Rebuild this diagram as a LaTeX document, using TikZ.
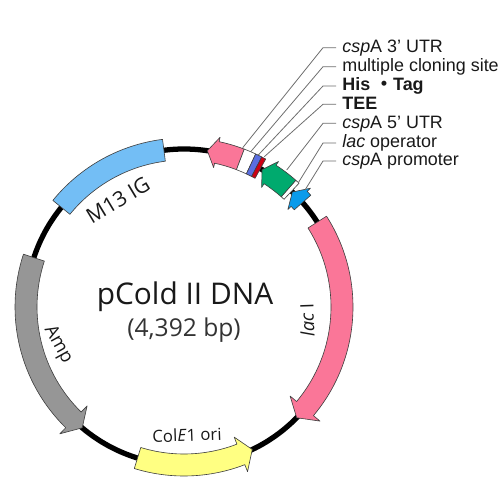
\documentclass[tikz,border=0pt]{standalone}
\usepackage{fontspec}
\setmainfont{Liberation Sans}
\newfontfamily\myr{Open Sans}
\newfontfamily\cjk{Noto Sans CJK JP}
\definecolor{pinkc}{RGB}{250,118,152}
\definecolor{grayc}{RGB}{150,150,150}
\definecolor{bluec}{RGB}{115,190,245}
\definecolor{yelc}{RGB}{255,255,130}
\definecolor{greenc}{RGB}{0,170,110}
\definecolor{cyanc}{RGB}{10,155,235}
\definecolor{midb}{RGB}{90,110,225}
\definecolor{redc}{RGB}{205,0,20}
\definecolor{leadc}{RGB}{110,110,110}
\tikzset{
 feat/.style={draw=black!75,line width=0.35pt,line join=round},
 leader/.style={draw=leadc,line width=0.45pt},
 lab/.style={anchor=base west,font=\fontsize{10.2}{12}\selectfont,inner sep=0pt,text=black!90},
 maplab/.style={font=\myr\fontsize{10.5}{13}\selectfont,inner sep=0pt,text=black!90}
}
\def\R{158}
\newcommand{\band}[3]{\path[feat,fill=#3] (#1:169) arc[start angle=#1,end angle=#2,radius=169] -- (#2:147) arc[start angle=#2,end angle=#1,radius=147] -- cycle;}
\newcommand{\garrow}[5]{\path[feat,fill=#4] (#1:169) arc[start angle=#1,end angle=#2,radius=169] -- (#2:158+#5) -- (#3:158) -- (#2:158-#5) -- (#2:147) arc[start angle=#2,end angle=#1,radius=147] -- cycle;}
\begin{document}
\begin{tikzpicture}[x=0.02cm,y=0.02cm]
\useasboundingbox (0,0) rectangle (500,500);
\fill[white] (0,0) rectangle (500,500);
\begin{scope}[shift={(184,193)}]
\draw[line width=3pt,black] (0,0) circle[radius=\R];
\garrow{161.8}{225.6}{229.9}{grayc}{19.5}
\band{97.3}{140.9}{bluec}
\garrow{252.9}{291.1}{295.6}{yelc}{18.5}
\garrow{32.5}{-40}{-44.5}{pinkc}{19.5}
\garrow{69.1}{78}{81.5}{pinkc}{15.5}
\band{69.1}{64.9}{white}
\band{64.9}{62.6}{midb}
\band{62.6}{61.1}{redc}
\band{48.6}{47.1}{white}
\garrow{48.6}{57}{60.4}{greenc}{15.5}
\garrow{41.4}{43.2}{46.7}{cyanc}{15.5}
\end{scope}
\coordinate (l1e) at (242.7,352.3);
\coordinate (l2e) at (250.7,348.3);
\coordinate (l3e) at (258.3,345);
\coordinate (l4e) at (264.3,343.3);
\coordinate (l5e) at (286.7,330);
\coordinate (l6e) at (298.3,317.3);
\coordinate (l7e) at (305,310);
\node[lab] (t1) at (342,447.3) {\textit{csp}A 3' UTR};
\node[lab] (t2) at (342,428.3) {multiple cloning site};
\node[lab] (t3) at (342,409) {\textbf{His {\cjk\bfseries ・}Tag}};
\node[lab] (t4) at (342,390.7) {\textbf{TEE}};
\node[lab] (t5) at (342,371.7) {\textit{csp}A 5' UTR};
\node[lab] (t6) at (342,352) {\textit{lac} operator};
\node[lab] (t7) at (342,334) {\textit{csp}A promoter};
\foreach \i in {1,...,7}{
 \draw[leader] (t\i.base west) ++(-6,5) -- ++(-13,0) -- (l\i e);
}
\node[maplab,rotate=31,font=\myr\fontsize{12}{13}\selectfont] (m13) at (118,300) {M13 IG};
\node[maplab,rotate=-61] (amp) at (58,155) {Amp};
\node[maplab,rotate=2,font=\myr\fontsize{9.5}{13}\selectfont] (cole) at (187,65) {Col\textit{E}1 ori};
\node[maplab,rotate=92] (laci) at (307,180) {\textit{lac} I};
\node[font=\myr\fontsize{17}{20}\selectfont,inner sep=0pt,text=black!90] (title) at (185,203) {pCold II DNA};
\node[font=\myr\fontsize{14}{16}\selectfont,inner sep=0pt,text=black!80] (size) at (184,170) {(4,392 bp)};
\end{tikzpicture}
\end{document}
